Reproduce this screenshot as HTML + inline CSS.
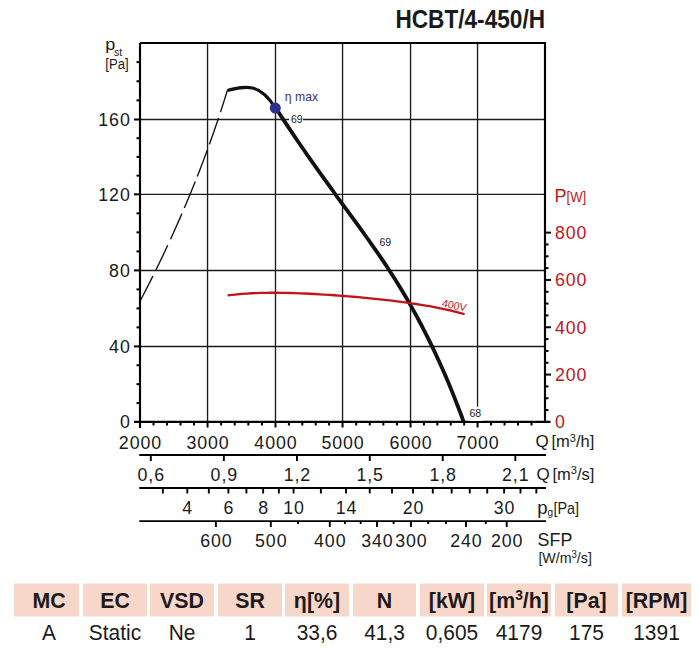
<!DOCTYPE html>
<html><head><meta charset="utf-8"><style>
html,body{margin:0;padding:0;background:#fff;}
svg{display:block;font-family:"Liberation Sans",sans-serif;}
</style></head><body>
<svg width="699" height="649" viewBox="0 0 699 649">
<rect width="699" height="649" fill="#fff"/>
<line x1="207.55" y1="43" x2="207.55" y2="422" stroke="#1a1a1a" stroke-width="1.35"/>
<line x1="275.50" y1="43" x2="275.50" y2="422" stroke="#1a1a1a" stroke-width="1.35"/>
<line x1="342.55" y1="43" x2="342.55" y2="422" stroke="#1a1a1a" stroke-width="1.35"/>
<line x1="410.55" y1="43" x2="410.55" y2="422" stroke="#1a1a1a" stroke-width="1.35"/>
<line x1="477.55" y1="43" x2="477.55" y2="422" stroke="#1a1a1a" stroke-width="1.35"/>
<line x1="140" y1="346.40" x2="545" y2="346.40" stroke="#1a1a1a" stroke-width="1.45"/>
<line x1="140" y1="270.40" x2="545" y2="270.40" stroke="#1a1a1a" stroke-width="1.45"/>
<line x1="140" y1="194.35" x2="545" y2="194.35" stroke="#1a1a1a" stroke-width="1.45"/>
<line x1="140" y1="119.50" x2="545" y2="119.50" stroke="#1a1a1a" stroke-width="1.45"/>
<line x1="136.5" y1="403.02" x2="140" y2="403.02" stroke="#000" stroke-width="2"/>
<line x1="136.5" y1="384.15" x2="140" y2="384.15" stroke="#000" stroke-width="2"/>
<line x1="136.5" y1="365.27" x2="140" y2="365.27" stroke="#000" stroke-width="2"/>
<line x1="134" y1="346.40" x2="140" y2="346.40" stroke="#000" stroke-width="2"/>
<line x1="136.5" y1="327.40" x2="140" y2="327.40" stroke="#000" stroke-width="2"/>
<line x1="136.5" y1="308.40" x2="140" y2="308.40" stroke="#000" stroke-width="2"/>
<line x1="136.5" y1="289.40" x2="140" y2="289.40" stroke="#000" stroke-width="2"/>
<line x1="134" y1="270.40" x2="140" y2="270.40" stroke="#000" stroke-width="2"/>
<line x1="136.5" y1="251.39" x2="140" y2="251.39" stroke="#000" stroke-width="2"/>
<line x1="136.5" y1="232.38" x2="140" y2="232.38" stroke="#000" stroke-width="2"/>
<line x1="136.5" y1="213.36" x2="140" y2="213.36" stroke="#000" stroke-width="2"/>
<line x1="134" y1="194.35" x2="140" y2="194.35" stroke="#000" stroke-width="2"/>
<line x1="136.5" y1="175.64" x2="140" y2="175.64" stroke="#000" stroke-width="2"/>
<line x1="136.5" y1="156.93" x2="140" y2="156.93" stroke="#000" stroke-width="2"/>
<line x1="136.5" y1="138.21" x2="140" y2="138.21" stroke="#000" stroke-width="2"/>
<line x1="134" y1="119.50" x2="140" y2="119.50" stroke="#000" stroke-width="2"/>
<line x1="136.5" y1="100.38" x2="140" y2="100.38" stroke="#000" stroke-width="2"/>
<line x1="136.5" y1="81.25" x2="140" y2="81.25" stroke="#000" stroke-width="2"/>
<line x1="136.5" y1="62.12" x2="140" y2="62.12" stroke="#000" stroke-width="2"/>
<line x1="134" y1="422" x2="140" y2="422" stroke="#000" stroke-width="2"/>
<line x1="140.00" y1="422" x2="140.00" y2="427.5" stroke="#000" stroke-width="2"/>
<line x1="153.51" y1="422" x2="153.51" y2="425.5" stroke="#000" stroke-width="2"/>
<line x1="167.02" y1="422" x2="167.02" y2="425.5" stroke="#000" stroke-width="2"/>
<line x1="180.53" y1="422" x2="180.53" y2="425.5" stroke="#000" stroke-width="2"/>
<line x1="194.04" y1="422" x2="194.04" y2="425.5" stroke="#000" stroke-width="2"/>
<line x1="207.55" y1="422" x2="207.55" y2="427.5" stroke="#000" stroke-width="2"/>
<line x1="221.14" y1="422" x2="221.14" y2="425.5" stroke="#000" stroke-width="2"/>
<line x1="234.73" y1="422" x2="234.73" y2="425.5" stroke="#000" stroke-width="2"/>
<line x1="248.32" y1="422" x2="248.32" y2="425.5" stroke="#000" stroke-width="2"/>
<line x1="261.91" y1="422" x2="261.91" y2="425.5" stroke="#000" stroke-width="2"/>
<line x1="275.50" y1="422" x2="275.50" y2="427.5" stroke="#000" stroke-width="2"/>
<line x1="288.91" y1="422" x2="288.91" y2="425.5" stroke="#000" stroke-width="2"/>
<line x1="302.32" y1="422" x2="302.32" y2="425.5" stroke="#000" stroke-width="2"/>
<line x1="315.73" y1="422" x2="315.73" y2="425.5" stroke="#000" stroke-width="2"/>
<line x1="329.14" y1="422" x2="329.14" y2="425.5" stroke="#000" stroke-width="2"/>
<line x1="342.55" y1="422" x2="342.55" y2="427.5" stroke="#000" stroke-width="2"/>
<line x1="356.15" y1="422" x2="356.15" y2="425.5" stroke="#000" stroke-width="2"/>
<line x1="369.75" y1="422" x2="369.75" y2="425.5" stroke="#000" stroke-width="2"/>
<line x1="383.35" y1="422" x2="383.35" y2="425.5" stroke="#000" stroke-width="2"/>
<line x1="396.95" y1="422" x2="396.95" y2="425.5" stroke="#000" stroke-width="2"/>
<line x1="410.55" y1="422" x2="410.55" y2="427.5" stroke="#000" stroke-width="2"/>
<line x1="423.95" y1="422" x2="423.95" y2="425.5" stroke="#000" stroke-width="2"/>
<line x1="437.35" y1="422" x2="437.35" y2="425.5" stroke="#000" stroke-width="2"/>
<line x1="450.75" y1="422" x2="450.75" y2="425.5" stroke="#000" stroke-width="2"/>
<line x1="464.15" y1="422" x2="464.15" y2="425.5" stroke="#000" stroke-width="2"/>
<line x1="477.55" y1="422" x2="477.55" y2="427.5" stroke="#000" stroke-width="2"/>
<line x1="491.04" y1="422" x2="491.04" y2="425.5" stroke="#000" stroke-width="2"/>
<line x1="504.53" y1="422" x2="504.53" y2="425.5" stroke="#000" stroke-width="2"/>
<line x1="518.02" y1="422" x2="518.02" y2="425.5" stroke="#000" stroke-width="2"/>
<line x1="531.51" y1="422" x2="531.51" y2="425.5" stroke="#000" stroke-width="2"/>
<line x1="545" y1="410.07" x2="548.5" y2="410.07" stroke="#000" stroke-width="2"/>
<line x1="545" y1="398.24" x2="548.5" y2="398.24" stroke="#000" stroke-width="2"/>
<line x1="545" y1="386.41" x2="548.5" y2="386.41" stroke="#000" stroke-width="2"/>
<line x1="545" y1="374.58" x2="551" y2="374.58" stroke="#000" stroke-width="2"/>
<line x1="545" y1="362.75" x2="548.5" y2="362.75" stroke="#000" stroke-width="2"/>
<line x1="545" y1="350.92" x2="548.5" y2="350.92" stroke="#000" stroke-width="2"/>
<line x1="545" y1="339.09" x2="548.5" y2="339.09" stroke="#000" stroke-width="2"/>
<line x1="545" y1="327.26" x2="551" y2="327.26" stroke="#000" stroke-width="2"/>
<line x1="545" y1="315.43" x2="548.5" y2="315.43" stroke="#000" stroke-width="2"/>
<line x1="545" y1="303.60" x2="548.5" y2="303.60" stroke="#000" stroke-width="2"/>
<line x1="545" y1="291.77" x2="548.5" y2="291.77" stroke="#000" stroke-width="2"/>
<line x1="545" y1="279.94" x2="551" y2="279.94" stroke="#000" stroke-width="2"/>
<line x1="545" y1="268.11" x2="548.5" y2="268.11" stroke="#000" stroke-width="2"/>
<line x1="545" y1="256.28" x2="548.5" y2="256.28" stroke="#000" stroke-width="2"/>
<line x1="545" y1="244.45" x2="548.5" y2="244.45" stroke="#000" stroke-width="2"/>
<line x1="545" y1="232.62" x2="551" y2="232.62" stroke="#000" stroke-width="2"/>
<path d="M140 43 H545 V421.9 H550.5 M545 421.9 H134 M140 43 V428" fill="none" stroke="#000" stroke-width="2.15"/>
<path d="M227.44 90.10 L225.78 95.49 L224.10 100.87 L222.38 106.26 L220.63 111.65 L218.86 117.04 L217.05 122.42 L215.22 127.81 L213.35 133.20 L211.45 138.58 L209.53 143.97 L207.57 149.36 L205.59 154.75 L203.57 160.13 L201.52 165.52 L199.45 170.91 L197.34 176.29 L195.20 181.68 L193.04 187.07 L190.84 192.46 L188.61 197.84 L186.36 203.23 L184.07 208.62 L181.75 214.01 L179.41 219.39 L177.03 224.78 L174.62 230.17 L172.18 235.55 L169.72 240.94 L167.22 246.33 L164.69 251.72 L162.13 257.10 L159.55 262.49 L156.93 267.88 L154.28 273.26 L151.60 278.65 L148.90 284.04 L146.16 289.43 L143.39 294.81 L140.59 300.20" fill="none" stroke="#111" stroke-width="1.35" stroke-dasharray="23.1 6.2 27.9 6.3 28 5.5 28.7 6 28.1 6.5 27.5 6.7 40"/>
<path d="M227.4 90.5 C245.7 85.92 259.84 82.41 275.3 108.05" fill="none" stroke="#111" stroke-width="3.2"/>
<path d="M273.27 104.00 L275.83 108.02 L278.42 112.05 L281.03 116.07 L283.67 120.09 L286.32 124.11 L289.00 128.14 L291.69 132.16 L294.41 136.18 L297.14 140.21 L299.89 144.23 L302.66 148.25 L305.44 152.27 L308.24 156.30 L311.06 160.32 L313.89 164.34 L316.74 168.36 L319.59 172.39 L322.46 176.41 L325.35 180.43 L328.24 184.46 L331.15 188.48 L334.06 192.50 L336.99 196.52 L339.92 200.55 L342.86 204.57 L345.80 208.59 L348.74 212.62 L351.68 216.64 L354.62 220.66 L357.54 224.68 L360.45 228.71 L363.35 232.73 L366.23 236.75 L369.10 240.77 L371.94 244.80 L374.76 248.82 L377.55 252.84 L380.31 256.87 L383.03 260.89 L385.73 264.91 L388.38 268.93 L390.99 272.96 L393.56 276.98 L396.10 281.00 L398.59 285.03 L401.04 289.05 L403.45 293.07 L405.83 297.09 L408.17 301.12 L410.47 305.14 L412.73 309.16 L414.96 313.18 L417.16 317.21 L419.31 321.23 L421.44 325.25 L423.53 329.28 L425.59 333.30 L427.61 337.32 L429.61 341.34 L431.57 345.37 L433.50 349.39 L435.40 353.41 L437.27 357.44 L439.12 361.46 L440.93 365.48 L442.72 369.50 L444.48 373.53 L446.21 377.55 L447.92 381.57 L449.60 385.59 L451.25 389.62 L452.89 393.64 L454.49 397.66 L456.08 401.69 L457.64 405.71 L459.18 409.73 L460.70 413.75 L462.20 417.78 L463.67 421.80" fill="none" stroke="#111" stroke-width="3.8" stroke-linejoin="round"/>
<path d="M227.60 295.39 L232.44 294.81 L237.27 294.31 L242.11 293.89 L246.95 293.55 L251.78 293.27 L256.62 293.06 L261.46 292.91 L266.29 292.81 L271.13 292.76 L275.97 292.76 L280.80 292.80 L285.64 292.87 L290.48 292.99 L295.31 293.14 L300.15 293.32 L304.99 293.52 L309.82 293.76 L314.66 294.01 L319.50 294.29 L324.33 294.59 L329.17 294.91 L334.01 295.25 L338.84 295.60 L343.68 295.98 L348.52 296.37 L353.36 296.77 L358.19 297.19 L363.03 297.64 L367.87 298.09 L372.70 298.57 L377.54 299.07 L382.38 299.59 L387.21 300.13 L392.05 300.70 L396.89 301.30 L401.72 301.92 L406.56 302.58 L411.40 303.27 L416.23 304.00 L421.07 304.77 L425.91 305.59 L430.74 306.45 L435.58 307.37 L440.42 308.35 L445.25 309.38 L450.09 310.49 L454.93 311.66 L459.76 312.91 L464.60 314.25" fill="none" stroke="#c3121a" stroke-width="2.3" stroke-linejoin="round"/>
<circle cx="275.3" cy="108.05" r="5.55" fill="#2e3192"/>
<rect x="289" y="114" width="14" height="10" fill="#fff"/>
<text x="291" y="123" font-size="10.5" text-anchor="start" fill="#1a1a1a" font-weight="normal" letter-spacing="0" >69</text>
<rect x="469" y="406.7" width="13.5" height="14.2" fill="#fff"/>
<text x="469.5" y="417" font-size="10.5" text-anchor="start" fill="#1a1a1a" font-weight="normal" letter-spacing="0" >68</text>
<text x="379.5" y="246.3" font-size="10.5" text-anchor="start" fill="#1a1a1a" font-weight="normal" letter-spacing="0" >69</text>
<text x="0" y="0" font-size="13" text-anchor="start" fill="#33328a" font-weight="normal" letter-spacing="0" transform="translate(284.8 101) scale(0.94 1)" >η max</text>
<text x="0" y="0" font-size="10.6" fill="#c0151b" transform="translate(441.5 306.6) rotate(11.5)">400V</text>
<text x="0" y="0" font-size="25" text-anchor="end" fill="#1a1a1a" font-weight="bold" letter-spacing="0" transform="translate(545 27.9) scale(0.905 1)" >HCBT/4-450/H</text>
<text x="130.7" y="428.4" font-size="17.8" text-anchor="end" fill="#1a1a1a" font-weight="normal" letter-spacing="0.9" >0</text>
<text x="130.7" y="352.9" font-size="17.8" text-anchor="end" fill="#1a1a1a" font-weight="normal" letter-spacing="0.9" >40</text>
<text x="130.7" y="276.9" font-size="17.8" text-anchor="end" fill="#1a1a1a" font-weight="normal" letter-spacing="0.9" >80</text>
<text x="130.7" y="200.85" font-size="17.8" text-anchor="end" fill="#1a1a1a" font-weight="normal" letter-spacing="0.9" >120</text>
<text x="130.7" y="126.0" font-size="17.8" text-anchor="end" fill="#1a1a1a" font-weight="normal" letter-spacing="0.9" >160</text>
<text x="555" y="428.2" font-size="17.8" text-anchor="start" fill="#c0151b" font-weight="normal" letter-spacing="0.9" >0</text>
<text x="555" y="380.88" font-size="17.8" text-anchor="start" fill="#c0151b" font-weight="normal" letter-spacing="0.9" >200</text>
<text x="555" y="333.56" font-size="17.8" text-anchor="start" fill="#c0151b" font-weight="normal" letter-spacing="0.9" >400</text>
<text x="555" y="286.23999999999995" font-size="17.8" text-anchor="start" fill="#c0151b" font-weight="normal" letter-spacing="0.9" >600</text>
<text x="555" y="238.92" font-size="17.8" text-anchor="start" fill="#c0151b" font-weight="normal" letter-spacing="0.9" >800</text>
<text x="0" y="0" font-size="16.6" text-anchor="start" fill="#1a1a1a" font-weight="normal" letter-spacing="0" transform="translate(105.3 50) scale(1.08 1)" >p</text>
<text x="114" y="55.6" font-size="10.5" text-anchor="start" fill="#1a1a1a" font-weight="normal" letter-spacing="0" >st</text>
<text x="0" y="0" font-size="14.5" text-anchor="start" fill="#1a1a1a" font-weight="normal" letter-spacing="0" transform="translate(105.3 68.8) scale(0.91 1)" >[Pa]</text>
<text x="554.5" y="202" font-size="18" text-anchor="start" fill="#c0151b" font-weight="normal" letter-spacing="0" >P</text>
<text x="0" y="0" font-size="14" text-anchor="start" fill="#c0151b" font-weight="normal" letter-spacing="0" transform="translate(566.6 202) scale(0.93 1)" >[W]</text>
<text x="140.45" y="448.8" font-size="17.8" text-anchor="middle" fill="#1a1a1a" font-weight="normal" letter-spacing="0.9" >2000</text>
<text x="208.0" y="448.8" font-size="17.8" text-anchor="middle" fill="#1a1a1a" font-weight="normal" letter-spacing="0.9" >3000</text>
<text x="275.95" y="448.8" font-size="17.8" text-anchor="middle" fill="#1a1a1a" font-weight="normal" letter-spacing="0.9" >4000</text>
<text x="343.0" y="448.8" font-size="17.8" text-anchor="middle" fill="#1a1a1a" font-weight="normal" letter-spacing="0.9" >5000</text>
<text x="411.0" y="448.8" font-size="17.8" text-anchor="middle" fill="#1a1a1a" font-weight="normal" letter-spacing="0.9" >6000</text>
<text x="478.0" y="448.8" font-size="17.8" text-anchor="middle" fill="#1a1a1a" font-weight="normal" letter-spacing="0.9" >7000</text>
<text x="535.5" y="447" font-size="17" text-anchor="start" fill="#1a1a1a" font-weight="normal" letter-spacing="0" >Q</text>
<text x="551.5" y="447" font-size="16.5" text-anchor="start" fill="#1a1a1a" font-weight="normal" letter-spacing="0" >[m<tspan font-size="11" dy="-5.2">3</tspan><tspan dy="5.2">/h]</tspan></text>
<line x1="139.3" y1="455" x2="546" y2="455" stroke="#000" stroke-width="1.85"/>
<line x1="139.3" y1="488" x2="546" y2="488" stroke="#000" stroke-width="1.85"/>
<line x1="139.3" y1="521.1" x2="546" y2="521.1" stroke="#000" stroke-width="1.85"/>
<line x1="150.81" y1="455" x2="150.81" y2="461" stroke="#000" stroke-width="1.9"/>
<text x="151.25799999999998" y="481" font-size="17.8" text-anchor="middle" fill="#1a1a1a" font-weight="normal" letter-spacing="0.9" >0,6</text>
<line x1="223.86" y1="455" x2="223.86" y2="461" stroke="#000" stroke-width="1.9"/>
<text x="224.308" y="481" font-size="17.8" text-anchor="middle" fill="#1a1a1a" font-weight="normal" letter-spacing="0.9" >0,9</text>
<line x1="296.96" y1="455" x2="296.96" y2="461" stroke="#000" stroke-width="1.9"/>
<text x="297.406" y="481" font-size="17.8" text-anchor="middle" fill="#1a1a1a" font-weight="normal" letter-spacing="0.9" >1,2</text>
<line x1="369.75" y1="455" x2="369.75" y2="461" stroke="#000" stroke-width="1.9"/>
<text x="370.2" y="481" font-size="17.8" text-anchor="middle" fill="#1a1a1a" font-weight="normal" letter-spacing="0.9" >1,5</text>
<line x1="442.71" y1="455" x2="442.71" y2="461" stroke="#000" stroke-width="1.9"/>
<text x="443.16" y="481" font-size="17.8" text-anchor="middle" fill="#1a1a1a" font-weight="normal" letter-spacing="0.9" >1,8</text>
<line x1="515.32" y1="455" x2="515.32" y2="461" stroke="#000" stroke-width="1.9"/>
<text x="515.772" y="481" font-size="17.8" text-anchor="middle" fill="#1a1a1a" font-weight="normal" letter-spacing="0.9" >2,1</text>
<text x="536.5" y="479.5" font-size="17" text-anchor="start" fill="#1a1a1a" font-weight="normal" letter-spacing="0" >Q</text>
<text x="552.5" y="479.5" font-size="16.5" text-anchor="start" fill="#1a1a1a" font-weight="normal" letter-spacing="0" >[m<tspan font-size="11" dy="-5.2">3</tspan><tspan dy="5.2">/s]</tspan></text>
<line x1="162.85" y1="488" x2="162.85" y2="493.5" stroke="#000" stroke-width="1.9"/>
<line x1="187.29" y1="488" x2="187.29" y2="493.5" stroke="#000" stroke-width="1.9"/>
<line x1="208.82" y1="488" x2="208.82" y2="493.5" stroke="#000" stroke-width="1.9"/>
<line x1="228.40" y1="488" x2="228.40" y2="493.5" stroke="#000" stroke-width="1.9"/>
<line x1="246.40" y1="488" x2="246.40" y2="493.5" stroke="#000" stroke-width="1.9"/>
<line x1="263.16" y1="488" x2="263.16" y2="493.5" stroke="#000" stroke-width="1.9"/>
<line x1="278.85" y1="488" x2="278.85" y2="493.5" stroke="#000" stroke-width="1.9"/>
<line x1="293.54" y1="488" x2="293.54" y2="493.5" stroke="#000" stroke-width="1.9"/>
<line x1="320.86" y1="488" x2="320.86" y2="493.5" stroke="#000" stroke-width="1.9"/>
<line x1="346.03" y1="488" x2="346.03" y2="493.5" stroke="#000" stroke-width="1.9"/>
<line x1="369.75" y1="488" x2="369.75" y2="493.5" stroke="#000" stroke-width="1.9"/>
<line x1="392.02" y1="488" x2="392.02" y2="493.5" stroke="#000" stroke-width="1.9"/>
<line x1="413.05" y1="488" x2="413.05" y2="493.5" stroke="#000" stroke-width="1.9"/>
<line x1="432.80" y1="488" x2="432.80" y2="493.5" stroke="#000" stroke-width="1.9"/>
<line x1="451.66" y1="488" x2="451.66" y2="493.5" stroke="#000" stroke-width="1.9"/>
<line x1="469.76" y1="488" x2="469.76" y2="493.5" stroke="#000" stroke-width="1.9"/>
<line x1="487.23" y1="488" x2="487.23" y2="493.5" stroke="#000" stroke-width="1.9"/>
<line x1="504.14" y1="488" x2="504.14" y2="493.5" stroke="#000" stroke-width="1.9"/>
<line x1="520.50" y1="488" x2="520.50" y2="493.5" stroke="#000" stroke-width="1.9"/>
<line x1="536.35" y1="488" x2="536.35" y2="493.5" stroke="#000" stroke-width="1.9"/>
<text x="187.735" y="513.8" font-size="17.8" text-anchor="middle" fill="#1a1a1a" font-weight="normal" letter-spacing="0.9" >4</text>
<text x="228.84781782985786" y="513.8" font-size="17.8" text-anchor="middle" fill="#1a1a1a" font-weight="normal" letter-spacing="0.9" >6</text>
<text x="263.6086912207799" y="513.8" font-size="17.8" text-anchor="middle" fill="#1a1a1a" font-weight="normal" letter-spacing="0.9" >8</text>
<text x="293.9914681042913" y="513.8" font-size="17.8" text-anchor="middle" fill="#1a1a1a" font-weight="normal" letter-spacing="0.9" >10</text>
<text x="346.4841481058478" y="513.8" font-size="17.8" text-anchor="middle" fill="#1a1a1a" font-weight="normal" letter-spacing="0.9" >14</text>
<text x="413.50469712971193" y="513.8" font-size="17.8" text-anchor="middle" fill="#1a1a1a" font-weight="normal" letter-spacing="0.9" >20</text>
<text x="504.5924678002666" y="513.8" font-size="17.8" text-anchor="middle" fill="#1a1a1a" font-weight="normal" letter-spacing="0.9" >30</text>
<text x="537.2" y="514.2" font-size="18.5" text-anchor="start" fill="#1a1a1a" font-weight="normal" letter-spacing="0" >p</text>
<text x="547.5" y="515.8" font-size="10" text-anchor="start" fill="#1a1a1a" font-weight="normal" letter-spacing="0" >g</text>
<text x="0" y="0" font-size="16" text-anchor="start" fill="#1a1a1a" font-weight="normal" letter-spacing="0" transform="translate(553.5 514.2) scale(0.9 1)" >[Pa]</text>
<line x1="215.9" y1="521" x2="215.9" y2="527" stroke="#000" stroke-width="1.9"/>
<text x="216.35" y="546.7" font-size="17.8" text-anchor="middle" fill="#1a1a1a" font-weight="normal" letter-spacing="0.9" >600</text>
<line x1="270.8" y1="521" x2="270.8" y2="527" stroke="#000" stroke-width="1.9"/>
<text x="271.25" y="546.7" font-size="17.8" text-anchor="middle" fill="#1a1a1a" font-weight="normal" letter-spacing="0.9" >500</text>
<line x1="329.8" y1="521" x2="329.8" y2="527" stroke="#000" stroke-width="1.9"/>
<text x="330.25" y="546.7" font-size="17.8" text-anchor="middle" fill="#1a1a1a" font-weight="normal" letter-spacing="0.9" >400</text>
<line x1="377" y1="521" x2="377" y2="527" stroke="#000" stroke-width="1.9"/>
<text x="377.45" y="546.7" font-size="17.8" text-anchor="middle" fill="#1a1a1a" font-weight="normal" letter-spacing="0.9" >340</text>
<line x1="411" y1="521" x2="411" y2="527" stroke="#000" stroke-width="1.9"/>
<text x="411.45" y="546.7" font-size="17.8" text-anchor="middle" fill="#1a1a1a" font-weight="normal" letter-spacing="0.9" >300</text>
<line x1="466" y1="521" x2="466" y2="527" stroke="#000" stroke-width="1.9"/>
<text x="466.45" y="546.7" font-size="17.8" text-anchor="middle" fill="#1a1a1a" font-weight="normal" letter-spacing="0.9" >240</text>
<line x1="506.7" y1="521" x2="506.7" y2="527" stroke="#000" stroke-width="1.9"/>
<text x="507.15" y="546.7" font-size="17.8" text-anchor="middle" fill="#1a1a1a" font-weight="normal" letter-spacing="0.9" >200</text>
<line x1="298" y1="521" x2="298" y2="524" stroke="#000" stroke-width="1.9"/>
<line x1="344.9" y1="521" x2="344.9" y2="524" stroke="#000" stroke-width="1.9"/>
<line x1="360.7" y1="521" x2="360.7" y2="524" stroke="#000" stroke-width="1.9"/>
<line x1="393.6" y1="521" x2="393.6" y2="524" stroke="#000" stroke-width="1.9"/>
<line x1="428.2" y1="521" x2="428.2" y2="524" stroke="#000" stroke-width="1.9"/>
<line x1="445.9" y1="521" x2="445.9" y2="524" stroke="#000" stroke-width="1.9"/>
<line x1="485.8" y1="521" x2="485.8" y2="524" stroke="#000" stroke-width="1.9"/>
<text x="0" y="0" font-size="18.5" text-anchor="start" fill="#1a1a1a" font-weight="normal" letter-spacing="0" transform="translate(537.6 545.6) scale(0.965 1)" >SFP</text>
<text x="0" y="0" font-size="14.8" text-anchor="start" fill="#1a1a1a" font-weight="normal" letter-spacing="0" transform="translate(538.4 563.2) scale(0.96 1)" >[W/m<tspan font-size="10" dy="-5.5">3</tspan><tspan dy="5.5">/s]</tspan></text>
<rect x="14" y="583.5" width="65" height="33" fill="#f8d7cb"/>
<text x="0" y="0" font-size="22.5" text-anchor="middle" fill="#1e1a19" font-weight="bold" letter-spacing="0" transform="translate(49 608) scale(0.95 1)" >MC</text>
<text x="0" y="0" font-size="22.5" text-anchor="middle" fill="#1a1a1a" font-weight="normal" letter-spacing="0" transform="translate(49 639.8) scale(0.93 1)" >A</text>
<rect x="83" y="583.5" width="64" height="33" fill="#f8d7cb"/>
<text x="0" y="0" font-size="22.5" text-anchor="middle" fill="#1e1a19" font-weight="bold" letter-spacing="0" transform="translate(115.0 608) scale(0.95 1)" >EC</text>
<text x="0" y="0" font-size="22.5" text-anchor="middle" fill="#1a1a1a" font-weight="normal" letter-spacing="0" transform="translate(115.0 639.8) scale(0.93 1)" >Static</text>
<rect x="150" y="583.5" width="64" height="33" fill="#f8d7cb"/>
<text x="0" y="0" font-size="22.5" text-anchor="middle" fill="#1e1a19" font-weight="bold" letter-spacing="0" transform="translate(182.0 608) scale(0.95 1)" >VSD</text>
<text x="0" y="0" font-size="22.5" text-anchor="middle" fill="#1a1a1a" font-weight="normal" letter-spacing="0" transform="translate(182.0 639.8) scale(0.93 1)" >Ne</text>
<rect x="218" y="583.5" width="64" height="33" fill="#f8d7cb"/>
<text x="0" y="0" font-size="22.5" text-anchor="middle" fill="#1e1a19" font-weight="bold" letter-spacing="0" transform="translate(250.0 608) scale(0.95 1)" >SR</text>
<text x="0" y="0" font-size="22.5" text-anchor="middle" fill="#1a1a1a" font-weight="normal" letter-spacing="0" transform="translate(250.0 639.8) scale(0.93 1)" >1</text>
<rect x="285" y="583.5" width="64" height="33" fill="#f8d7cb"/>
<text x="0" y="0" font-size="22.5" text-anchor="middle" fill="#1e1a19" font-weight="bold" letter-spacing="0" transform="translate(317.0 608) scale(0.95 1)" >η[%]</text>
<text x="0" y="0" font-size="22.5" text-anchor="middle" fill="#1a1a1a" font-weight="normal" letter-spacing="0" transform="translate(317.0 639.8) scale(0.93 1)" >33,6</text>
<rect x="353" y="583.5" width="63" height="33" fill="#f8d7cb"/>
<text x="0" y="0" font-size="22.5" text-anchor="middle" fill="#1e1a19" font-weight="bold" letter-spacing="0" transform="translate(384.5 608) scale(0.95 1)" >N</text>
<text x="0" y="0" font-size="22.5" text-anchor="middle" fill="#1a1a1a" font-weight="normal" letter-spacing="0" transform="translate(384.5 639.8) scale(0.93 1)" >41,3</text>
<rect x="420" y="583.5" width="64" height="33" fill="#f8d7cb"/>
<text x="0" y="0" font-size="22.5" text-anchor="middle" fill="#1e1a19" font-weight="bold" letter-spacing="0" transform="translate(452.0 608) scale(0.95 1)" >[kW]</text>
<text x="0" y="0" font-size="22.5" text-anchor="middle" fill="#1a1a1a" font-weight="normal" letter-spacing="0" transform="translate(452.0 639.8) scale(0.93 1)" >0,605</text>
<rect x="487" y="583.5" width="64" height="33" fill="#f8d7cb"/>
<text x="0" y="0" font-size="22.5" text-anchor="middle" fill="#1e1a19" font-weight="bold" letter-spacing="0" transform="translate(519.0 608) scale(0.95 1)" >[m<tspan font-size="14.5" dy="-8">3</tspan><tspan dy="8">/h]</tspan></text>
<text x="0" y="0" font-size="22.5" text-anchor="middle" fill="#1a1a1a" font-weight="normal" letter-spacing="0" transform="translate(519.0 639.8) scale(0.93 1)" >4179</text>
<rect x="555" y="583.5" width="63" height="33" fill="#f8d7cb"/>
<text x="0" y="0" font-size="22.5" text-anchor="middle" fill="#1e1a19" font-weight="bold" letter-spacing="0" transform="translate(586.5 608) scale(0.95 1)" >[Pa]</text>
<text x="0" y="0" font-size="22.5" text-anchor="middle" fill="#1a1a1a" font-weight="normal" letter-spacing="0" transform="translate(586.5 639.8) scale(0.93 1)" >175</text>
<rect x="622" y="583.5" width="69" height="33" fill="#f8d7cb"/>
<text x="0" y="0" font-size="22.5" text-anchor="middle" fill="#1e1a19" font-weight="bold" letter-spacing="0" transform="translate(656.5 608) scale(0.95 1)" >[RPM]</text>
<text x="0" y="0" font-size="22.5" text-anchor="middle" fill="#1a1a1a" font-weight="normal" letter-spacing="0" transform="translate(656.5 639.8) scale(0.93 1)" >1391</text>
</svg></body></html>
